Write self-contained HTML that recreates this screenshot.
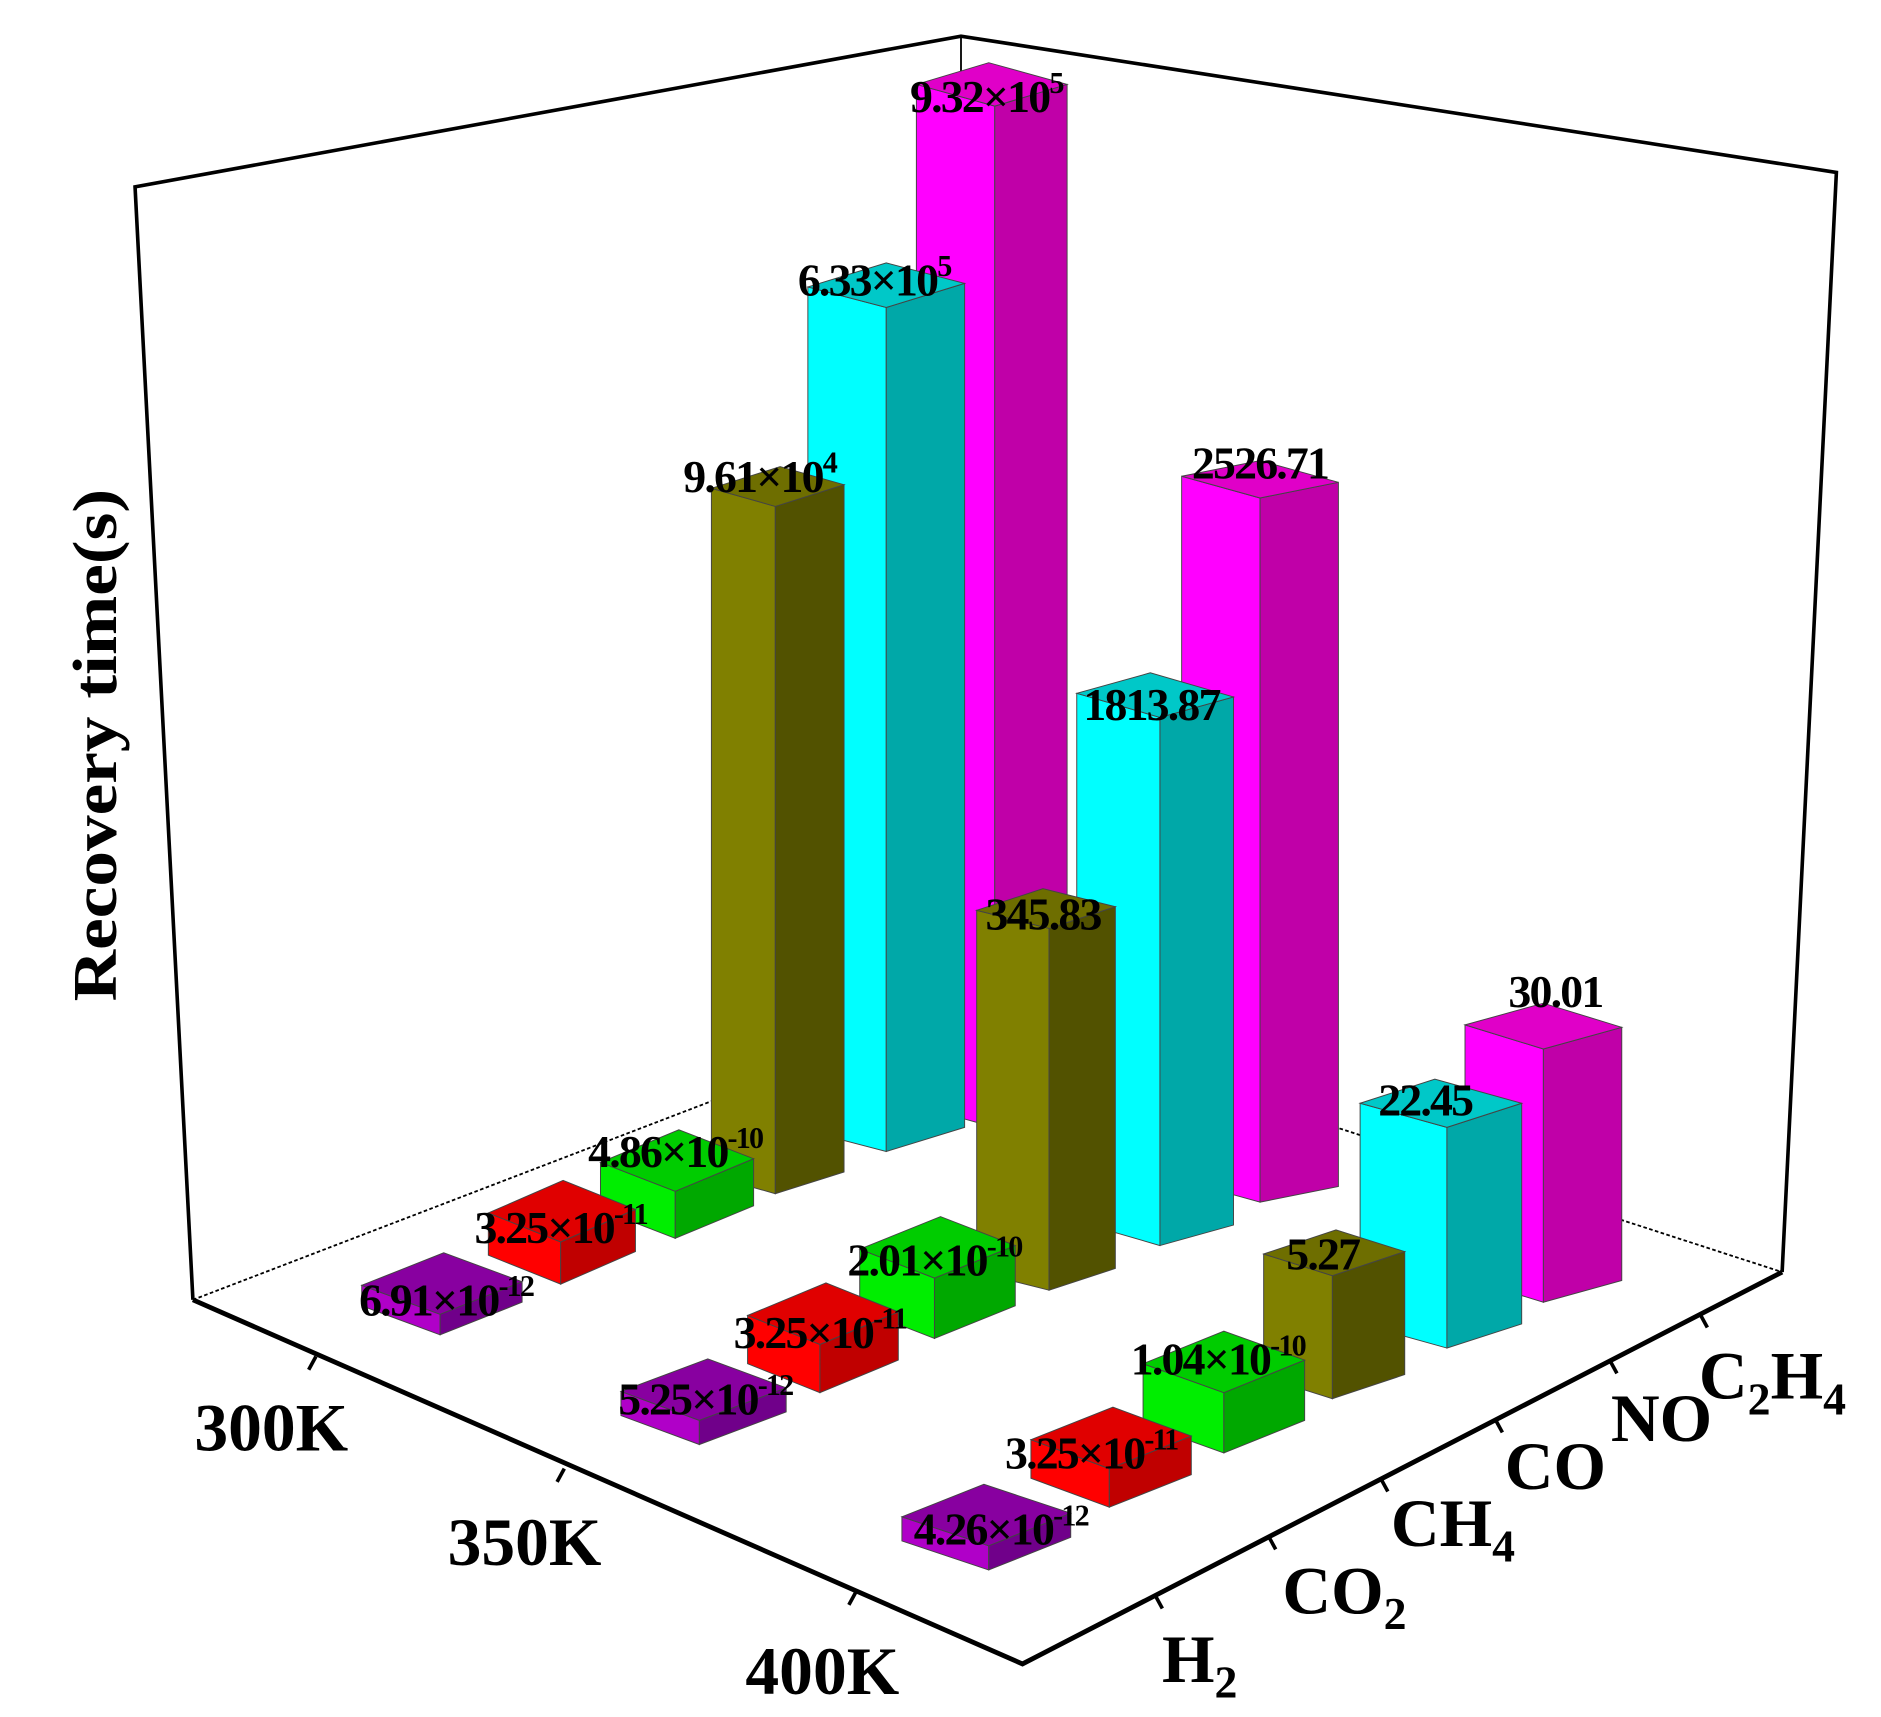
<!DOCTYPE html>
<html><head><meta charset="utf-8">
<style>
html,body{margin:0;padding:0;background:#fff;}
svg{display:block;}
text{font-family:"Liberation Serif",serif;font-weight:bold;fill:#000;}
</style></head>
<body>
<svg id="s" width="1881" height="1717" viewBox="0 0 1560 1424" preserveAspectRatio="none" xmlns="http://www.w3.org/2000/svg">
<g id="frame" stroke="#000" fill="none">
<polyline points="160,1078 112,155 797,30 1523,143 1478,1055" stroke-width="3"/>
<line x1="797" y1="30" x2="797" y2="834" stroke-width="1.5"/>
<line x1="160" y1="1078" x2="797" y2="834" stroke-width="1.5" stroke-dasharray="3,2"/>
<line x1="797" y1="834" x2="1478" y2="1055" stroke-width="1.5" stroke-dasharray="3,2"/>
</g>
<g id="bars"></g>
<g id="front" stroke="#000" fill="none" stroke-width="4">
<polyline points="160,1078 848,1380 1478,1055"/>
<line x1="262" y1="1125" x2="256" y2="1136" stroke-width="3"/>
<line x1="468" y1="1218" x2="462" y2="1229" stroke-width="3"/>
<line x1="710" y1="1320" x2="704" y2="1331" stroke-width="3"/>
<line x1="958" y1="1323" x2="964" y2="1334" stroke-width="3"/>
<line x1="1052" y1="1274" x2="1058" y2="1285" stroke-width="3"/>
<line x1="1145" y1="1226" x2="1151" y2="1237" stroke-width="3"/>
<line x1="1240" y1="1177" x2="1246" y2="1188" stroke-width="3"/>
<line x1="1335" y1="1128" x2="1341" y2="1139" stroke-width="3"/>
<line x1="1410" y1="1090" x2="1416" y2="1101" stroke-width="3"/>
</g>
<g font-size="56">
<text x="225" y="1203" text-anchor="middle">300K</text>
<text x="435" y="1298" text-anchor="middle">350K</text>
<text x="682" y="1405" text-anchor="middle">400K</text>
<text x="995" y="1395" text-anchor="middle">H<tspan font-size="38" dy="13">2</tspan></text>
<text x="1115" y="1338" text-anchor="middle">CO<tspan font-size="38" dy="13">2</tspan></text>
<text x="1205" y="1282" text-anchor="middle">CH<tspan font-size="38" dy="13">4</tspan></text>
<text x="1290" y="1235" text-anchor="middle">CO</text>
<text x="1378" y="1195" text-anchor="middle">NO</text>
<text x="1470" y="1160" text-anchor="middle">C<tspan font-size="38" dy="13">2</tspan><tspan dy="-13">H</tspan><tspan font-size="38" dy="13">4</tspan></text>
</g>
<text x="0" y="0" font-size="52" text-anchor="middle" textLength="425" lengthAdjust="spacingAndGlyphs" transform="translate(96,618) rotate(-90)">Recovery time(s)</text>
<g id="labels" font-size="38" letter-spacing="-1.5"></g>
</svg>
<script>
var NS="http://www.w3.org/2000/svg";
var C={
 m:["#ff00ff","#c000a8","#e000c8"],
 c:["#00ffff","#00a8a8","#00c8c8"],
 o:["#808000","#525200","#6e6e00"],
 g:["#00ee00","#00a800","#00cc00"],
 r:["#ff0000","#c00000","#e00000"],
 p:["#b000c8","#70008a","#8800a0"]
};
var bars=document.getElementById("bars"),labs=document.getElementById("labels");
function poly(pts,fill){var p=document.createElementNS(NS,"polygon");p.setAttribute("points",pts.map(function(a){return a[0]+","+a[1]}).join(" "));p.setAttribute("fill",fill);p.setAttribute("stroke","#444");p.setAttribute("stroke-width","0.8");bars.appendChild(p);}
function bar(xL,xM,xR,tL,tM,tR,bM,col){
 var k=C[col];var bL=bM-(tM-tL),bR=bM-(tM-tR);var xB=xL+xR-xM,tB=tL+tR-tM;
 poly([[xL,tL],[xM,tM],[xM,bM],[xL,bL]],k[0]);
 poly([[xM,tM],[xR,tR],[xR,bR],[xM,bM]],k[1]);
 poly([[xL,tL],[xB,tB],[xR,tR],[xM,tM]],k[2]);
}
function flat(xL,xM,xR,tM,bM,col){bar(xL,xM,xR,tM-24,tM,tM-27,bM,col);}
function lab(x,y,m,e){var t=document.createElementNS(NS,"text");t.setAttribute("x",x);t.setAttribute("y",y+13);t.setAttribute("text-anchor","middle");
 if(e===undefined){t.textContent=m;}else{t.appendChild(document.createTextNode(m+"\u00d710"));var s=document.createElementNS(NS,"tspan");s.setAttribute("font-size","25");s.setAttribute("dy","-16");s.textContent=e;t.appendChild(s);}
 labs.appendChild(t);}
// row 300K
bar(760,825,885,70,88,70,935,"m");
bar(670,735,800,238,255,235,955,"c");
bar(590,643,700,405,420,402,990,"o");
flat(498,560,625,988,1027,"g");
flat(405,465,527,1030,1065,"r");
flat(300,365,433,1090,1107,"p");
// row 350K
bar(980,1045,1110,395,413,400,997,"m");
bar(893,962,1023,575,595,578,1033,"c");
bar(810,870,925,755,770,752,1070,"o");
flat(713,775,842,1060,1110,"g");
flat(620,680,745,1115,1155,"r");
flat(515,580,652,1178,1198,"p");
// row 400K
bar(1215,1280,1345,850,870,852,1080,"m");
bar(1128,1200,1262,915,935,915,1118,"c");
bar(1048,1105,1165,1040,1058,1038,1160,"o");
flat(948,1015,1082,1155,1205,"g");
flat(855,920,988,1218,1250,"r");
flat(748,820,888,1282,1302,"p");
// labels
lab(818,80,"9.32","5");lab(725,232,"6.33","5");lab(630,395,"9.61","4");
lab(560,955,"4.86","-10");lab(465,1018,"3.25","-11");lab(370,1078,"6.91","-12");
lab(1045,384,"2526.71");lab(955,584,"1813.87");lab(865,758,"345.83");
lab(775,1045,"2.01","-10");lab(680,1105,"3.25","-11");lab(585,1160,"5.25","-12");
lab(1290,822,"30.01");lab(1182,912,"22.45");lab(1097,1040,"5.27");
lab(1010,1127,"1.04","-10");lab(905,1205,"3.25","-11");lab(830,1268,"4.26","-12");
</script>
</body></html>
